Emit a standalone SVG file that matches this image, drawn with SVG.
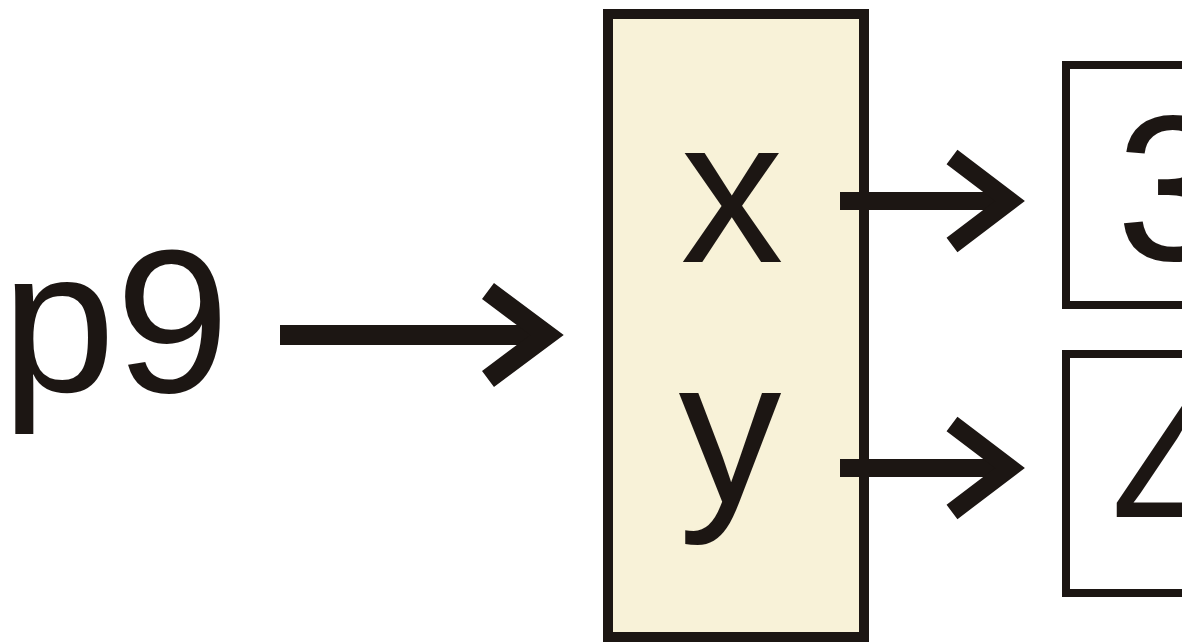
<svg xmlns="http://www.w3.org/2000/svg" width="1182" height="642" viewBox="0 0 1182 642">
<style>
.t{font-family:"Liberation Sans",Arial,sans-serif;fill:#1c1613}
.box{stroke:#1c1613}
.ln{stroke:#1c1613;fill:none;stroke-linecap:butt}
.hd{stroke:#1c1613;fill:none;stroke-linejoin:miter;stroke-miterlimit:10}
</style>
<rect width="1182" height="642" fill="#ffffff"/>
<g id="label-p9"><text class="t" x="1.5" y="392" font-size="205">p9</text></g>
<g id="node-xy">
<rect class="box" x="608" y="14" width="256" height="623" fill="#f8f2d8" stroke-width="10"/>
<text class="t" x="732" y="262" font-size="206" text-anchor="middle">x</text>
<text class="t" x="730" y="502" font-size="206" text-anchor="middle">y</text>
</g>
<g id="node-3">
<rect class="box" x="1066" y="65" width="160" height="240" fill="#ffffff" stroke-width="8"/>
<text class="t" x="1116" y="260" font-size="207">3</text>
</g>
<g id="node-4">
<rect class="box" x="1066" y="354" width="160" height="239" fill="#ffffff" stroke-width="8"/>
<text class="t" x="1112" y="549" font-size="207">4</text>
</g>
<g id="connectors">
<path class="ln" stroke-width="20" d="M280 335H545"/>
<path class="hd" stroke-width="20" d="M488 291L547 335L488 379"/>
<path class="ln" stroke-width="18" d="M840 201H1008"/>
<path class="hd" stroke-width="18" d="M952 157L1010 201L952 245"/>
<path class="ln" stroke-width="18" d="M840 468H1008"/>
<path class="hd" stroke-width="18" d="M952 424L1010 468L952 512"/>
</g>
</svg>
